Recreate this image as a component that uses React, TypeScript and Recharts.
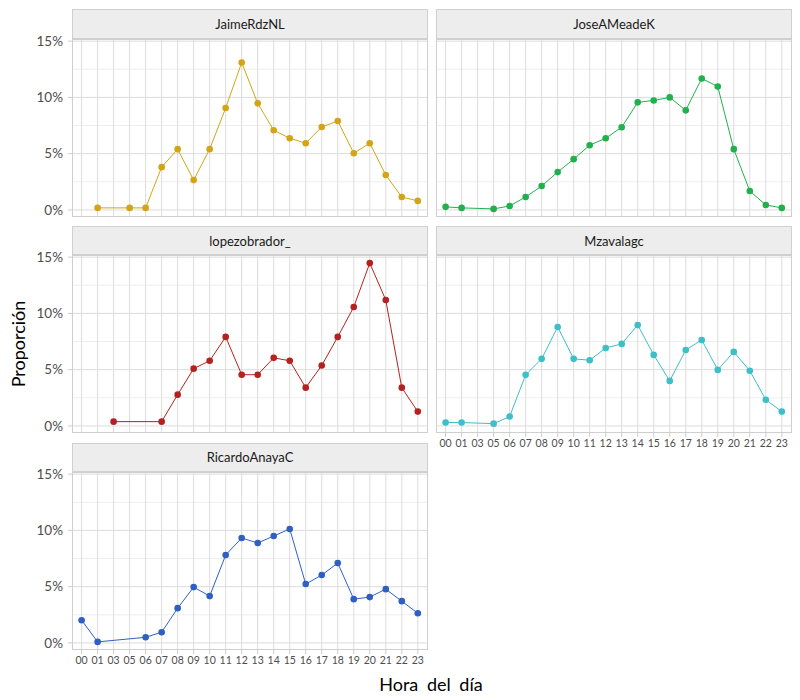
import { LineChart, Line, XAxis, YAxis, CartesianGrid } from "recharts";

// hour categories as they appear on the x axis (02 and 04 are absent)
const hours = ["00", "01", "03", "05", "06", "07", "08", "09", "10", "11", "12", "13", "14", "15", "16", "17", "18", "19", "20", "21", "22", "23"];

// proportion of tweets per hour (%), null where there is no observation
const jaime = [null, 0.18, null, 0.18, 0.18, 3.8, 5.4, 2.65, 5.4, 9.06, 13.1, 9.47, 7.08, 6.37, 5.93, 7.37, 7.9, 5.04, 5.93, 3.1, 1.15, 0.8];
const jose = [0.27, 0.18, null, 0.09, 0.35, 1.15, 2.12, 3.36, 4.51, 5.75, 6.37, 7.35, 9.56, 9.73, 10.0, 8.85, 11.68, 10.97, 5.4, 1.68, 0.44, 0.18];
const lopez = [null, null, 0.38, null, null, 0.38, 2.78, 5.09, 5.79, 7.91, 4.55, 4.55, 6.05, 5.79, 3.4, 5.37, 7.91, 10.57, 14.47, 11.19, 3.4, 1.27];
const mzavala = [0.3, 0.3, null, 0.2, 0.83, 4.54, 5.96, 8.79, 5.96, 5.84, 6.93, 7.29, 8.97, 6.31, 4.0, 6.75, 7.64, 4.98, 6.58, 4.9, 2.33, 1.27];
const ricardo = [2.02, 0.09, null, null, 0.5, 0.95, 3.09, 4.96, 4.16, 7.81, 9.33, 8.88, 9.5, 10.13, 5.23, 6.03, 7.1, 3.89, 4.07, 4.78, 3.71, 2.64];

const yTicks = [0, 5, 10, 15];
const yMinor = [2.5, 7.5, 12.5];

const rows = hours.map((h, i) => ({
  x: i,
  hour: h,
  JaimeRdzNL: jaime[i],
  JoseAMeadeK: jose[i],
  lopezobrador_: lopez[i],
  Mzavalagc: mzavala[i],
  RicardoAnayaC: ricardo[i],
}));

const FONT = "Lato, 'Open Sans', 'DejaVu Sans', sans-serif";
const COL_X = [72.3, 436.3];
const PANEL_W = 355.4;
const ROW_Y = [9.3, 226, 442.7]; // strip tops
const STRIP_H = 29.3;
const PANEL_H = 178;
const Y_AXIS_W = 60;
const X_AXIS_H = 26;
const PAD_TOP = 10; // room for the 15% label above the plot area
const PAD_BOTTOM = 8;

const panels = [
  { name: "JaimeRdzNL", color: "#d3a514", col: 0, row: 0, showX: false },
  { name: "JoseAMeadeK", color: "#22b04d", col: 1, row: 0, showX: false },
  { name: "lopezobrador_", color: "#b3221f", col: 0, row: 1, showX: false },
  { name: "Mzavalagc", color: "#3ebec6", col: 1, row: 1, showX: true },
  { name: "RicardoAnayaC", color: "#2f5fc0", col: 0, row: 2, showX: true },
];

type PanelProps = { name: string; color: string; col: number; row: number; showX: boolean };

const Panel = ({ name, color, col, row, showX }: PanelProps) => {
  const left = COL_X[col];
  const stripTop = ROW_Y[row];
  const plotTop = stripTop + STRIP_H;
  const showY = col === 0;
  const chartLeft = showY ? left - Y_AXIS_W : left;
  const bottomPad = showX ? 0 : PAD_BOTTOM;
  const w = PANEL_W + (showY ? Y_AXIS_W : 0);
  const h = PAD_TOP + PANEL_H + (showX ? X_AXIS_H : 0) + bottomPad;
  return (
    <>
      <div
        style={{
          position: "absolute",
          left,
          top: stripTop,
          width: PANEL_W,
          height: STRIP_H,
          boxSizing: "border-box",
          background: "#ededed",
          border: "1px solid #d0d0d0",
          color: "#1a1a1a",
          fontSize: 13,
          display: "flex",
          alignItems: "center",
          justifyContent: "center",
        }}
      >
        {name}
      </div>
      <div style={{ position: "absolute", left: chartLeft, top: plotTop - PAD_TOP }}>
        <LineChart
          width={w}
          height={h}
          data={rows}
          margin={{ top: PAD_TOP, right: 0, bottom: bottomPad, left: 0 }}
        >
          <CartesianGrid horizontalValues={yMinor} vertical={false} stroke="#eeeeee" strokeWidth={1} />
          <CartesianGrid horizontalValues={yTicks} verticalValues={hours.map((_, i) => i)} stroke="#dcdcdc" strokeWidth={1} />
          <XAxis
            dataKey="x"
            type="number"
            domain={[-0.6, 21.6]}
            ticks={hours.map((_, i) => i)}
            tickFormatter={(i: number) => hours[i]}
            interval={0}
            hide={!showX}
            height={X_AXIS_H}
            axisLine={false}
            tickLine={{ stroke: "#cccccc" }}
            tickSize={4}
            tickMargin={3}
            tick={{ fontSize: 10.5, fill: "#4d4d4d" }}
            allowDataOverflow
          />
          <YAxis
            type="number"
            domain={[-0.63, 15.19]}
            ticks={yTicks}
            tickFormatter={(v: number) => `${v}%`}
            interval={0}
            hide={!showY}
            width={Y_AXIS_W}
            axisLine={false}
            tickLine={{ stroke: "#cccccc" }}
            tickSize={4}
            tickMargin={5}
            tick={{ fontSize: 13.5, fill: "#4d4d4d" }}
            allowDataOverflow
          />
          <Line
            dataKey={name}
            stroke={color}
            strokeWidth={1}
            dot={{ r: 3.3, fill: color, stroke: color, strokeWidth: 0 }}
            connectNulls
            isAnimationActive={false}
          />
        </LineChart>
      </div>
      <div
        style={{
          position: "absolute",
          left,
          top: plotTop,
          width: PANEL_W,
          height: PANEL_H,
          boxSizing: "border-box",
          border: "1px solid #cfcfcf",
          pointerEvents: "none",
        }}
      />
    </>
  );
};

const App = () => {
  return (
    <div
      style={{
        position: "absolute",
        left: 0,
        top: 0,
        width: 800,
        height: 700,
        background: "#ffffff",
        fontFamily: FONT,
        overflow: "hidden",
      }}
    >
      {panels.map((p) => (
        <Panel key={p.name} {...p} />
      ))}
      <div
        style={{
          position: "absolute",
          left: 18,
          top: 344,
          transform: "translate(-50%, -50%) rotate(-90deg)",
          fontSize: 18,
          color: "#000000",
          whiteSpace: "nowrap",
        }}
      >
        Proporción
      </div>
      <div
        style={{
          position: "absolute",
          left: 431,
          top: 684,
          transform: "translate(-50%, -50%)",
          fontSize: 18,
          wordSpacing: 4,
          color: "#000000",
          whiteSpace: "nowrap",
        }}
      >
        Hora del día
      </div>
    </div>
  );
};

export default App;
